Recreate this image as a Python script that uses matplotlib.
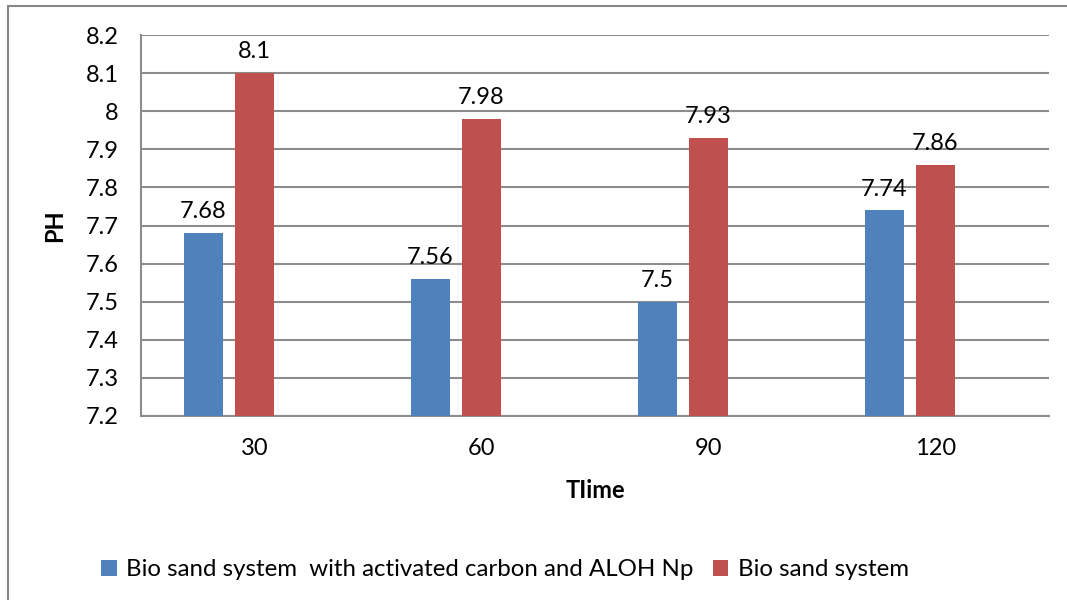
import numpy as np
import matplotlib.pyplot as plt
from matplotlib.patches import Rectangle

plt.rcParams['font.family'] = ['Lato', 'DejaVu Sans']

times = ["30", "60", "90", "120"]
ph_carbon = [7.68, 7.56, 7.5, 7.74]
ph_sand = [8.1, 7.98, 7.93, 7.86]
labels_carbon = ["7.68", "7.56", "7.5", "7.74"]
labels_sand = ["8.1", "7.98", "7.93", "7.86"]

blue = "#4F81BD"
red = "#C0504D"
grid_col = "#8C8C8C"
fs = 17

fig = plt.figure(figsize=(10.67, 6), dpi=100)
ax = fig.add_axes([141 / 1067, 1 - 416 / 600, 908 / 1067, 381 / 600])

# outer chart frame
fig.patches.append(Rectangle((8 / 1067, -0.05), 1.2, 1 - 6 / 600 + 0.05,
                             transform=fig.transFigure, fill=False,
                             edgecolor="#878787", linewidth=1.5))

x = np.arange(len(times))
w = 0.172
b1 = ax.bar(x - 0.225, np.array(ph_carbon) - 7.2, w, bottom=7.2, color=blue,
            label="Bio sand system  with activated carbon and ALOH Np", zorder=3)
b2 = ax.bar(x, np.array(ph_sand) - 7.2, w, bottom=7.2, color=red,
            label="Bio sand system", zorder=3)

for xi, v, s in zip(x - 0.225, ph_carbon, labels_carbon):
    ax.text(xi, v + 0.028, s, ha="center", va="bottom", fontsize=fs)
for xi, v, s in zip(x, ph_sand, labels_sand):
    ax.text(xi, v + 0.028, s, ha="center", va="bottom", fontsize=fs)

ax.set_xlim(-0.5, 3.5)
ax.set_ylim(7.2, 8.2)
ax.set_yticks(np.round(np.arange(7.2, 8.21, 0.1), 1))
ax.set_yticklabels(["7.2", "7.3", "7.4", "7.5", "7.6", "7.7", "7.8", "7.9", "8", "8.1", "8.2"])
ax.set_xticks(x)
ax.set_xticklabels(times)
ax.tick_params(length=0, labelsize=fs)
ax.tick_params(axis="x", pad=16)
ax.tick_params(axis="y", pad=16)
ax.yaxis.grid(True, color=grid_col, linewidth=1.5, zorder=0)
ax.set_axisbelow(True)
for side in ["top", "right"]:
    ax.spines[side].set_visible(False)
ax.spines["left"].set_color(grid_col)
ax.spines["bottom"].set_color(grid_col)
ax.spines["left"].set_linewidth(1.5)
ax.spines["bottom"].set_linewidth(1.5)

ax.set_ylabel("PH", fontsize=fs, fontweight="bold", labelpad=14)
ax.set_xlabel("TIime", fontsize=fs, fontweight="bold", labelpad=14)

fig.legend(handles=[b1, b2], loc="center", bbox_to_anchor=(505 / 1067, 1 - 570 / 600),
           ncol=2, frameon=False, fontsize=fs + 0.3, handlelength=0.65, handleheight=0.65,
           handletextpad=0.4, columnspacing=0.8)

fig.savefig("out.png", dpi=100)
